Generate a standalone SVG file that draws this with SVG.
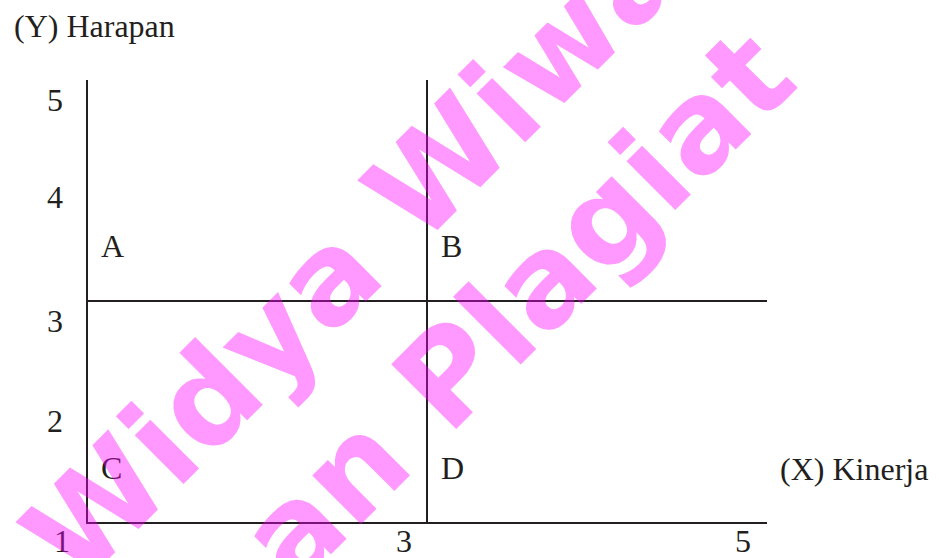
<svg xmlns="http://www.w3.org/2000/svg" width="939" height="558" viewBox="0 0 939 558">
  <style>
    .t { font-family: "Liberation Serif", "Times New Roman", serif; font-size: 32px; fill: #231f20; }
    .ln { stroke: #231f20; stroke-width: 2; fill: none; }
    .wm { font-family: "DejaVu Sans", sans-serif; font-weight: bold; font-size: 126px; fill: #ff00ff; }
  </style>
  <rect width="939" height="558" fill="#ffffff"/>
  <g id="axis-y-title"><text class="t" x="14" y="37">(Y) Harapan</text></g>
  <g id="axis-x-title"><text class="t" x="780" y="480">(X) Kinerja</text></g>
  <g id="y-ticks">
    <text class="t" x="47" y="111">5</text>
    <text class="t" x="47" y="208">4</text>
    <text class="t" x="47" y="332">3</text>
    <text class="t" x="47" y="432">2</text>
  </g>
  <g id="x-ticks">
    <text class="t" x="54" y="552">1</text>
    <text class="t" x="396" y="552">3</text>
    <text class="t" x="735" y="552">5</text>
  </g>
  <g id="quadrant-A"><text class="t" x="101" y="257">A</text></g>
  <g id="quadrant-B"><text class="t" x="441" y="257">B</text></g>
  <g id="quadrant-C"><text class="t" x="101" y="479">C</text></g>
  <g id="quadrant-D"><text class="t" x="441" y="479">D</text></g>
  <g id="connectors">
    <line class="ln" x1="87" y1="80" x2="87" y2="524"/>
    <line class="ln" x1="86" y1="523" x2="767" y2="523"/>
    <line class="ln" x1="86" y1="301" x2="767" y2="301"/>
    <line class="ln" x1="427" y1="80" x2="427" y2="523"/>
  </g>
  <g id="watermark" opacity="0.4" transform="rotate(-45)">
    <text class="wm" x="-362" y="472">Widya Wiwa</text>
    <text class="wm" x="-211" y="626">an Plagiat</text>
  </g>
</svg>
